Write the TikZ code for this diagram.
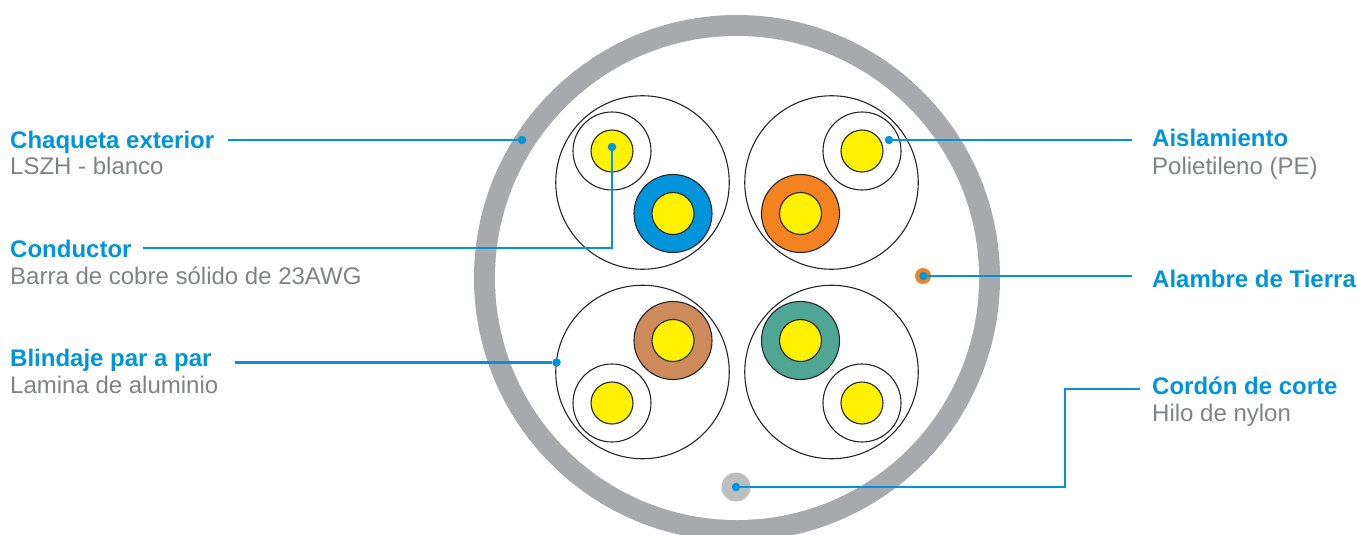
\documentclass[tikz,border=0pt]{standalone}
\usepackage{fontspec}
\setmainfont{Liberation Sans}
\definecolor{cblue}{HTML}{0095DA}
\definecolor{cgrey}{HTML}{A7A9AC}
\definecolor{ctext}{HTML}{808285}
\definecolor{cyel}{HTML}{FFF200}
\definecolor{corange}{HTML}{F58220}
\definecolor{cbrown}{HTML}{CD8B5C}
\definecolor{cgreen}{HTML}{4FA695}
\definecolor{ccord}{HTML}{BCBEC0}
\tikzset{
  pair/.style={circle,draw=black!85,line width=1.1pt,fill=white,minimum size=173.5pt,inner sep=0pt},
  sheath/.style={circle,draw=black!85,line width=1.1pt,minimum size=78pt,inner sep=0pt},
  core/.style={circle,draw=black!85,line width=1.1pt,fill=cyel,minimum size=42pt,inner sep=0pt},
  lead/.style={cblue,line width=2.7pt},
  dotend/.style={circle,fill=cblue,minimum size=8.5pt,inner sep=0pt},
  head/.style={anchor=base west,inner sep=0pt,text=cblue,font=\fontsize{24}{26}\selectfont\bfseries},
  sub/.style={anchor=base west,inner sep=0pt,text=ctext,font=\fontsize{24}{26}\selectfont}
}
\begin{document}
\begin{tikzpicture}[x=1pt,y=-1pt]
\useasboundingbox (0,0) rectangle (1357,535);
\begin{scope}
\clip (0,0) rectangle (1357,535);
\node[circle,draw=none,fill=cgrey,minimum size=526pt,inner sep=0pt] (jacket) at (737,278) {};
\node[circle,draw=none,fill=white,minimum size=484pt,inner sep=0pt] (jacketin) at (737,278) {};
\end{scope}
% pairs
\node[pair] (p1) at (642.5,182.5) {};
\node[pair] (p2) at (831.5,182.5) {};
\node[pair] (p3) at (642.5,372) {};
\node[pair] (p4) at (831.5,372) {};
% plain sheaths
\node[sheath,fill=white] (s1) at (612,151) {};
\node[sheath,fill=white] (s2) at (862,151) {};
\node[sheath,fill=white] (s3) at (612,403) {};
\node[sheath,fill=white] (s4) at (862,403) {};
\node[sheath,fill=cblue] (c1) at (673,213.5) {};
\node[sheath,fill=corange] (c2) at (800.5,213.5) {};
\node[sheath,fill=cbrown] (c3) at (673,340.5) {};
\node[sheath,fill=cgreen] (c4) at (800.5,340.5) {};
\foreach \n in {s1,s2,s3,s4,c1,c2,c3,c4}{\node[core] (y\n) at (\n) {};}
% ground and ripcord
\node[circle,fill=corange,minimum size=16pt,inner sep=0pt] (ground) at (923,276) {};
\node[circle,fill=ccord,minimum size=29pt,inner sep=0pt] (cord) at (736,487) {};
% end dots
\node[dotend] (d1) at (522,140) {};
\node[dotend] (d2) at (612,147) {};
\node[dotend] (d3) at (556.5,362.5) {};
\node[dotend] (d4) at (889,140) {};
\node[dotend] (d5) at (923.5,276) {};
\node[dotend] (d6) at (736,487) {};
% free ends
\coordinate (a1) at (228,140);
\coordinate (a2) at (143,248);
\coordinate (a3) at (235,362.5);
\coordinate (a4) at (1132,140);
\coordinate (a5) at (1132,276);
\coordinate (a6) at (1140,389);
\draw[lead] (a1) -- (d1);
\draw[lead] (a2) -| (d2);
\draw[lead] (a3) -- (d3);
\draw[lead] (a4) -- (d4);
\draw[lead] (a5) -- (d5);
\draw[lead] (a6) -- (1065,389) -- (1065,487) -- (d6);
% labels
\node[head] (t1) at (10,148.5) {Chaqueta exterior};
\node[sub] (t1b) at (10,174.5) {LSZH - blanco};
\node[head] (t2) at (10,257.5) {Conductor};
\node[sub] (t2b) at (10,284.5) {Barra de cobre sólido de 23AWG};
\node[head] (t3) at (10,366.5) {Blindaje par a par};
\node[sub] (t3b) at (10,393.5) {Lamina de aluminio};
\node[head] (t4) at (1152,146.5) {Aislamiento};
\node[sub] (t4b) at (1152,174.5) {Polietileno (PE)};
\node[head] (t5) at (1152,287) {Alambre de Tierra};
\node[head] (t6) at (1152,394.5) {Cordón de corte};
\node[sub] (t6b) at (1152,421.5) {Hilo de nylon};
\end{tikzpicture}
\end{document}
